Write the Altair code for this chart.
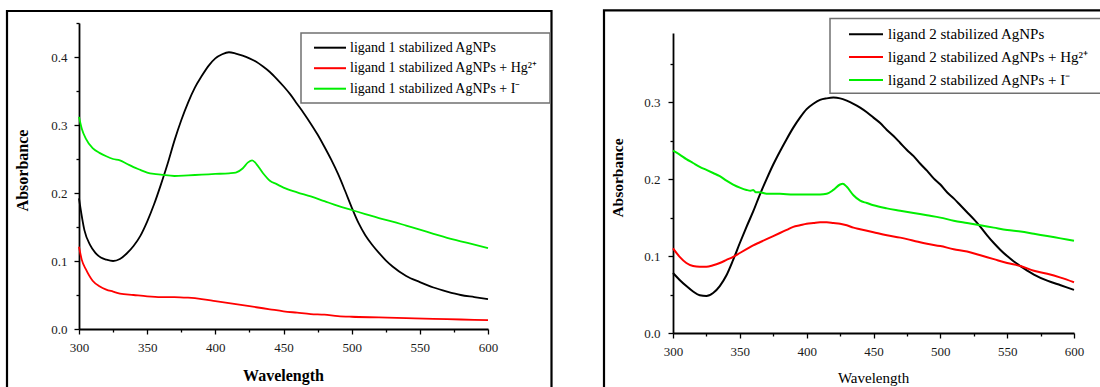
import altair as alt
import pandas as pd

FONT = "Liberation Serif"
COLORS = ["#000000", "#ff0000", "#00ee00"]

SERIES_1 = ["ligand 1 stabilized AgNPs",
            "ligand 1 stabilized AgNPs + Hg²⁺",
            "ligand 1 stabilized AgNPs + I⁻"]
SERIES_2 = ["ligand 2 stabilized AgNPs",
            "ligand 2 stabilized AgNPs + Hg²⁺",
            "ligand 2 stabilized AgNPs + I⁻"]

# ---------------- ligand 1 ----------------
L1_BLACK_WL = [300, 304, 308, 312, 316, 320, 325, 330, 335, 340, 345, 350, 355, 360, 365, 370,
               375, 380, 385, 390, 395, 400, 405, 410, 415, 420, 425, 430, 435, 440, 445, 450,
               455, 460, 465, 470, 475, 480, 485, 490, 495, 500, 505, 510, 515, 520, 525, 530,
               540, 550, 560, 570, 580, 590, 600]
L1_BLACK_A = [0.192, 0.145, 0.124, 0.112, 0.105, 0.102, 0.100, 0.103, 0.111, 0.122, 0.137, 0.158,
              0.183, 0.212, 0.243, 0.277, 0.307, 0.333, 0.355, 0.372, 0.387, 0.398, 0.404, 0.407,
              0.405, 0.402, 0.398, 0.393, 0.386, 0.378, 0.368, 0.357, 0.345, 0.331, 0.317, 0.302,
              0.286, 0.268, 0.249, 0.228, 0.204, 0.179, 0.156, 0.138, 0.124, 0.112, 0.101, 0.092,
              0.078, 0.069, 0.061, 0.055, 0.050, 0.047, 0.044]

L1_RED_WL = [300, 302, 305, 310, 315, 320, 325, 330, 340, 350, 360, 370, 380, 390, 400, 410,
             420, 430, 440, 450, 460, 470, 480, 490, 500, 520, 540, 560, 580, 600]
L1_RED_A = [0.121, 0.102, 0.088, 0.071, 0.063, 0.058, 0.055, 0.052, 0.050, 0.048, 0.047, 0.047,
            0.046, 0.044, 0.041, 0.038, 0.035, 0.032, 0.029, 0.026, 0.024, 0.022, 0.021, 0.019,
            0.018, 0.017, 0.016, 0.015, 0.014, 0.013]

L1_GREEN_WL = [300, 302, 305, 310, 315, 320, 325, 330, 335, 340, 345, 350, 355, 360, 370, 380,
               390, 400, 410, 415, 420, 424, 427, 430, 435, 440, 445, 450, 460, 470, 480, 490,
               500, 510, 520, 530, 540, 550, 560, 570, 580, 590, 600]
L1_GREEN_A = [0.312, 0.295, 0.280, 0.266, 0.259, 0.254, 0.250, 0.248, 0.243, 0.238, 0.234, 0.230,
              0.228, 0.227, 0.225, 0.226, 0.227, 0.228, 0.229, 0.230, 0.236, 0.245, 0.248, 0.243,
              0.229, 0.218, 0.213, 0.208, 0.201, 0.195, 0.188, 0.181, 0.175, 0.169, 0.163, 0.158,
              0.152, 0.146, 0.140, 0.134, 0.129, 0.124, 0.119]

# ---------------- ligand 2 ----------------
L2_BLACK_WL = [300, 305, 310, 315, 320, 325, 330, 335, 340, 345, 350, 355, 360, 365, 370, 375,
               380, 385, 390, 395, 400, 405, 410, 415, 420, 425, 430, 435, 440, 445, 450, 455,
               460, 465, 470, 475, 480, 485, 490, 495, 500, 505, 510, 515, 520, 525, 530, 535,
               540, 545, 550, 555, 560, 565, 570, 580, 590, 600]
L2_BLACK_A = [0.078, 0.069, 0.061, 0.054, 0.049, 0.048, 0.052, 0.061, 0.075, 0.095, 0.117, 0.138,
              0.158, 0.180, 0.200, 0.219, 0.236, 0.252, 0.267, 0.280, 0.291, 0.298, 0.303, 0.305,
              0.306, 0.305, 0.302, 0.298, 0.293, 0.287, 0.280, 0.273, 0.264, 0.256, 0.247, 0.238,
              0.230, 0.220, 0.211, 0.201, 0.193, 0.183, 0.175, 0.166, 0.157, 0.148, 0.138, 0.127,
              0.117, 0.108, 0.100, 0.093, 0.087, 0.081, 0.076, 0.068, 0.062, 0.056]

L2_RED_WL = [300, 305, 310, 315, 320, 325, 330, 335, 340, 345, 350, 355, 360, 365, 370, 375,
             380, 385, 390, 395, 400, 405, 410, 415, 420, 425, 430, 435, 440, 450, 460, 470,
             480, 490, 500, 510, 520, 530, 540, 550, 560, 570, 580, 590, 600]
L2_RED_A = [0.110, 0.099, 0.091, 0.087, 0.086, 0.086, 0.088, 0.091, 0.095, 0.099, 0.104, 0.109,
            0.114, 0.118, 0.122, 0.126, 0.130, 0.134, 0.138, 0.140, 0.142, 0.143, 0.144, 0.144,
            0.143, 0.142, 0.140, 0.137, 0.135, 0.131, 0.127, 0.124, 0.120, 0.116, 0.113, 0.109,
            0.106, 0.101, 0.096, 0.091, 0.087, 0.081, 0.077, 0.072, 0.066]

L2_GREEN_WL = [300, 305, 310, 315, 320, 325, 330, 335, 340, 345, 350, 355, 358, 360, 362, 365,
               370, 380, 390, 400, 410, 415, 420, 425, 427, 430, 435, 440, 445, 450, 460, 470,
               480, 490, 500, 510, 520, 530, 540, 550, 560, 570, 580, 590, 600]
L2_GREEN_A = [0.237, 0.232, 0.226, 0.221, 0.216, 0.212, 0.208, 0.204, 0.198, 0.193, 0.189, 0.186,
              0.185, 0.186, 0.183, 0.183, 0.181, 0.181, 0.180, 0.180, 0.180, 0.181, 0.186, 0.193,
              0.194, 0.190, 0.179, 0.172, 0.169, 0.166, 0.162, 0.159, 0.156, 0.153, 0.150, 0.146,
              0.143, 0.140, 0.137, 0.134, 0.132, 0.129, 0.126, 0.123, 0.120]


def long_df(names, pairs):
    rows = []
    for name, (wls, vals) in zip(names, pairs):
        for w, a in zip(wls, vals):
            rows.append({"wavelength": w, "absorbance": a, "series": name})
    return pd.DataFrame(rows)


df1 = long_df(SERIES_1, [(L1_BLACK_WL, L1_BLACK_A), (L1_RED_WL, L1_RED_A), (L1_GREEN_WL, L1_GREEN_A)])
df2 = long_df(SERIES_2, [(L2_BLACK_WL, L2_BLACK_A), (L2_RED_WL, L2_RED_A), (L2_GREEN_WL, L2_GREEN_A)])

X_TICKS = list(range(300, 601, 25))
Y1_TICKS = [round(i * 0.05, 2) for i in range(10)]
Y2_TICKS = [round(i * 0.05, 2) for i in range(8)]

MAJOR_X = "datum.value % 50 === 0"
MAJOR_Y = "abs(datum.value * 10 - round(datum.value * 10)) < 0.001"

CANVAS_H = 387


def x_axis(y0, title_x, title_y, title_weight, title_size):
    return alt.Axis(
        orient="bottom", offset=y0 - CANVAS_H, values=X_TICKS, grid=False,
        labelExpr=f"{MAJOR_X} ? datum.label : ''",
        tickSize={"condition": {"test": MAJOR_X, "value": 5}, "value": 3},
        tickColor="black", tickWidth=1.3, domainColor="black", domainWidth=1.8,
        labelFont=FONT, labelFontSize=13, labelColor="#1a1a1a", labelPadding=7,
        labelFlush=False, labelOverlap=False,
        title="Wavelength", titleFont=FONT, titleFontSize=title_size,
        titleFontWeight=title_weight, titleColor="black",
        titleX=title_x, titleY=title_y, titleBaseline="middle", titleAlign="center",
    )


def y_axis(x0, values, title_x, title_y, title_size, pad):
    return alt.Axis(
        orient="left", offset=-x0, values=values, grid=False,
        labelExpr=f"{MAJOR_Y} ? format(datum.value, '.1f') : ''",
        tickSize={"condition": {"test": MAJOR_Y, "value": 5}, "value": 3},
        tickColor="black", tickWidth=1.3, domainColor="black", domainWidth=1.8,
        labelFont=FONT, labelFontSize=13, labelColor="#1a1a1a", labelPadding=pad,
        labelOverlap=False,
        title="Absorbance", titleFont=FONT, titleFontSize=title_size,
        titleFontWeight="bold", titleColor="black", titleAngle=270,
        titleX=title_x, titleY=title_y, titleBaseline="middle", titleAlign="center",
    )


def legend(lx, ly, font_size, label_offset, sym_size, row_pad):
    return alt.Legend(
        orient="none", legendX=lx, legendY=ly, title=None, padding=0,
        symbolType="M-4,0H4", symbolSize=sym_size, symbolStrokeWidth=2,
        labelFont=FONT, labelFontSize=font_size, labelColor="black",
        labelOffset=label_offset, labelLimit=500, rowPadding=row_pad,
    )


lines1 = alt.Chart(df1).mark_line(strokeWidth=1.8, interpolate="monotone").encode(
    x=alt.X("wavelength:Q",
            scale=alt.Scale(domain=[300, 600], range=[79, 488], nice=False, zero=False),
            axis=x_axis(329, 283, 46, "bold", 16)),
    y=alt.Y("absorbance:Q",
            scale=alt.Scale(domain=[0, 0.45], range=[329, 23], nice=False, zero=False),
            axis=y_axis(79, Y1_TICKS, -57, 170, 16, 7)),
    color=alt.Color("series:N", scale=alt.Scale(domain=SERIES_1, range=COLORS),
                    legend=legend(323, 40.7, 14, 13, 64, 6.5)),
)

lines2 = alt.Chart(df2).mark_line(strokeWidth=2, interpolate="monotone").encode(
    x=alt.X("wavelength:Q",
            scale=alt.Scale(domain=[300, 600], range=[673, 1074], nice=False, zero=False),
            axis=x_axis(333, 873, 44, "normal", 15)),
    y=alt.Y("absorbance:Q",
            scale=alt.Scale(domain=[0, 0.39], range=[333, 33], nice=False, zero=False),
            axis=y_axis(673, Y2_TICKS, -56, 177.5, 15.5, 8)),
    color=alt.Color("series:N", scale=alt.Scale(domain=SERIES_2, range=COLORS),
                    legend=legend(858.5, 26.8, 15, 14.5, 72.25, 6.8)),
)

one = alt.Data(values=[{}])

frame1 = alt.Chart(one).mark_rect(fill="transparent", stroke="black", strokeWidth=2.2).encode(
    x=alt.value(7), x2=alt.value(551.5), y=alt.value(11), y2=alt.value(420))
frame2 = alt.Chart(one).mark_rect(fill="transparent", stroke="black", strokeWidth=2.2).encode(
    x=alt.value(604), x2=alt.value(1130), y=alt.value(10.3), y2=alt.value(420))

box1 = alt.Chart(one).mark_rect(fill="white", stroke="#707070", strokeWidth=1.5).encode(
    x=alt.value(301), x2=alt.value(550), y=alt.value(33), y2=alt.value(103))
box2 = alt.Chart(one).mark_rect(fill="white", stroke="#707070", strokeWidth=1.5).encode(
    x=alt.value(830), x2=alt.value(1130), y=alt.value(18.5), y2=alt.value(93.3))

chart = alt.layer(frame1, frame2, lines1, lines2, box1, box2).resolve_scale(
    x="independent", y="independent", color="independent"
).properties(
    width=1100, height=387, autosize="none", padding=0, background="white"
).configure_view(stroke=None)

chart.save("out.html", embed_options={"renderer": "svg", "actions": False})
